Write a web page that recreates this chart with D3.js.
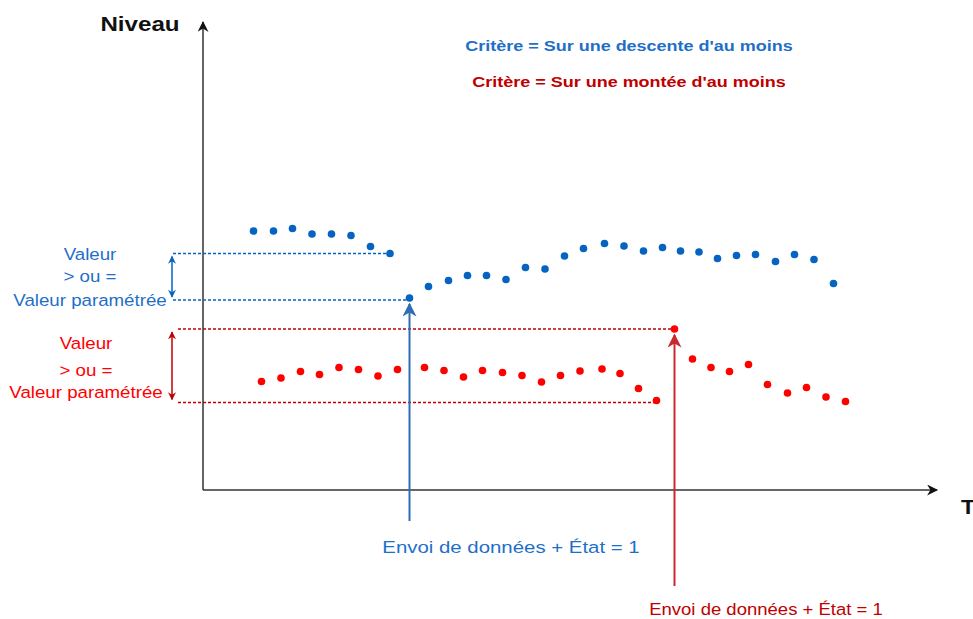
<!DOCTYPE html>
<html>
<head>
<meta charset="utf-8">
<script src="https://cdn.jsdelivr.net/npm/d3@7"></script>
<style>
  html, body { margin: 0; padding: 0; background: #fff; }
  svg { display: block; font-family: "Liberation Sans", Arial, sans-serif; }
</style>
</head>
<body>
<svg id="chart" width="973" height="619"></svg>
<script>
// Descent criterion series (blue): time and level
const blueTime = [10.1, 14.1, 17.9, 21.8, 25.7, 29.6, 33.5, 37.4, 41.3, 45.1, 49.1, 52.9, 56.7, 60.6, 64.5, 68.4,
                  72.3, 76.1, 80.3, 84.2, 88.1, 91.9, 95.5, 99.2, 102.9, 106.7, 110.5, 114.5, 118.3, 122.2, 126.1];
const blueLevel = [51.8, 51.8, 52.3, 51.2, 51.2, 50.9, 48.7, 47.3, 38.4, 40.7, 41.9, 42.9, 42.9, 42.1, 44.5, 44.2,
                   46.8, 48.3, 49.3, 48.8, 47.8, 48.5, 47.8, 47.6, 46.3, 46.9, 47.1, 45.7, 47.1, 46.1, 41.3];

// Rise criterion series (red): time and level
const redTime = [11.7, 15.6, 19.5, 23.3, 27.2, 31.1, 35.0, 38.9, 44.3, 48.2, 52.1, 55.9, 59.9, 63.8, 67.7, 71.5,
                 75.4, 79.8, 83.4, 87.1, 90.7, 94.3, 97.9, 101.6, 105.3, 109.1, 112.9, 116.9, 120.7, 124.6, 128.5];
const redLevel = [21.7, 22.4, 23.7, 23.1, 24.5, 24.1, 22.8, 24.1, 24.5, 23.9, 22.6, 23.9, 23.5, 22.9, 21.6, 22.9,
                  23.8, 24.2, 23.3, 20.3, 17.9, 32.2, 26.2, 24.5, 23.7, 25.1, 21.1, 19.4, 20.5, 18.6, 17.7];

// Reference points: [before, trigger] indices for each criterion
const blueRef = [7, 8];
const redRef = [20, 21];

const titles = ["Critère = Sur une descente d'au moins", "Critère = Sur une montée d'au moins"];
const sideLabel = ["Valeur", "> ou =", "Valeur paramétrée"];
const eventLabel = "Envoi de données + État = 1";
const axisLabels = ["Niveau", "T"];

const BLUE = "#0563C1";
const BLUE_TXT = "#1F6FC9";
const BLUE_ARROW = "#2E6DB4";
const RED = "#FF0000";
const RED_DARK = "#C00000";
const RED_ARROW = "#C8282E";
const AXIS = "#333333";

const svg = d3.select("#chart");

const x = d3.scaleLinear().domain([0, 146.4]).range([203, 935]);
const y = d3.scaleLinear().domain([0, 93]).range([490, 25]);

// Text helper: the lettering is slightly wide, so glyphs get a horizontal stretch
function label(str, cx, by, opts) {
  const o = Object.assign({ size: 15, bold: false, fill: "#111", sx: 1, anchor: "middle" }, opts);
  return svg.append("text").text(str)
    .attr("transform", `translate(${cx},${by}) scale(${o.sx},1)`)
    .attr("text-anchor", o.anchor)
    .attr("font-size", o.size)
    .attr("font-weight", o.bold ? "bold" : "normal")
    .attr("fill", o.fill);
}

const defs = svg.append("defs");
function marker(id, color, w, h) {
  defs.append("marker")
    .attr("id", id)
    .attr("viewBox", "0 0 10 10")
    .attr("refX", 9).attr("refY", 5)
    .attr("markerWidth", w).attr("markerHeight", h)
    .attr("markerUnits", "userSpaceOnUse")
    .attr("orient", "auto-start-reverse")
    .append("path")
    .attr("d", "M0,0 L10,5 L0,10 L3,5 Z")
    .attr("fill", color);
}
marker("axisHead", "#111", 12, 11);
marker("blueHead", BLUE_ARROW, 14, 14);
marker("redHead", RED_ARROW, 14, 14);
marker("blueSmall", BLUE, 9, 8);
marker("redSmall", RED_DARK, 9, 8);

// Axes with arrow heads
const x0 = x(0), y0 = y(0);
svg.append("line")
  .attr("x1", x0).attr("y1", y0).attr("x2", x0).attr("y2", 22)
  .attr("stroke", AXIS).attr("stroke-width", 1.5)
  .attr("marker-end", "url(#axisHead)");
svg.append("line")
  .attr("x1", x0).attr("y1", y0).attr("x2", 937).attr("y2", y0)
  .attr("stroke", AXIS).attr("stroke-width", 1.5)
  .attr("marker-end", "url(#axisHead)");

label(axisLabels[0], 140, 31, { size: 21, bold: true, sx: 1.15 });
label(axisLabels[1], 961, 514, { size: 21, bold: true, sx: 1.1, anchor: "start" });

// Criterion titles
label(titles[0], 629, 51, { size: 15, bold: true, sx: 1.2, fill: BLUE_TXT });
label(titles[1], 629, 87, { size: 15, bold: true, sx: 1.2, fill: RED_DARK });

// Threshold guides: dashed levels, double arrow and side label
function guide(times, levels, ref, color, smallHead, textColor, lineLeft, labelX, labelYs) {
  const hi = levels[ref[0]] > levels[ref[1]] ? ref[0] : ref[1];
  const lo = hi === ref[0] ? ref[1] : ref[0];
  const yHi = y(levels[hi]), yLo = y(levels[lo]) + 2;
  const g = svg.append("g");
  g.append("line")
    .attr("x1", lineLeft).attr("x2", x(times[hi]) - 2)
    .attr("y1", yHi).attr("y2", yHi)
    .attr("stroke", color).attr("stroke-width", 1.3).attr("stroke-dasharray", "3,2");
  g.append("line")
    .attr("x1", lineLeft).attr("x2", x(times[lo]) + (lo > hi ? 2 : -2))
    .attr("y1", yLo).attr("y2", yLo)
    .attr("stroke", color).attr("stroke-width", 1.3).attr("stroke-dasharray", "3,2");
  g.append("line")
    .attr("x1", 172).attr("x2", 172)
    .attr("y1", yHi + 3).attr("y2", yLo - 3)
    .attr("stroke", color).attr("stroke-width", 1.5)
    .attr("marker-start", `url(#${smallHead})`)
    .attr("marker-end", `url(#${smallHead})`);
  sideLabel.forEach((t, i) => {
    label(t, labelX, labelYs[i], { size: 17, sx: 1.1, fill: textColor });
  });
}
guide(blueTime, blueLevel, blueRef, BLUE, "blueSmall", BLUE_TXT, 173, 90, [260, 282, 306]);
guide(redTime, redLevel, redRef, RED_DARK, "redSmall", RED, 178, 86, [349, 376, 398]);

// Event arrows pointing at the trigger point
function eventArrow(times, levels, idx, color, head, textColor, yBottom, textX, textY, sx) {
  const cx = x(times[idx]);
  svg.append("line")
    .attr("x1", cx).attr("x2", cx)
    .attr("y1", yBottom).attr("y2", y(levels[idx]) + 6)
    .attr("stroke", color).attr("stroke-width", 2)
    .attr("marker-end", `url(#${head})`);
  label(eventLabel, textX, textY, { size: 17, sx: sx, fill: textColor });
}
eventArrow(blueTime, blueLevel, blueRef[1], BLUE_ARROW, "blueHead", BLUE_TXT, 521, 511, 553, 1.2);
eventArrow(redTime, redLevel, redRef[1], RED_ARROW, "redHead", RED_DARK, 586, 766, 615, 1.09);

// Data points
svg.append("g").selectAll("circle")
  .data(blueTime.map((t, i) => [t, blueLevel[i]]))
  .join("circle")
  .attr("cx", d => x(d[0])).attr("cy", d => y(d[1]))
  .attr("r", 3.8).attr("fill", BLUE);
svg.append("g").selectAll("circle")
  .data(redTime.map((t, i) => [t, redLevel[i]]))
  .join("circle")
  .attr("cx", d => x(d[0])).attr("cy", d => y(d[1]))
  .attr("r", 3.8).attr("fill", RED);
</script>
</body>
</html>
